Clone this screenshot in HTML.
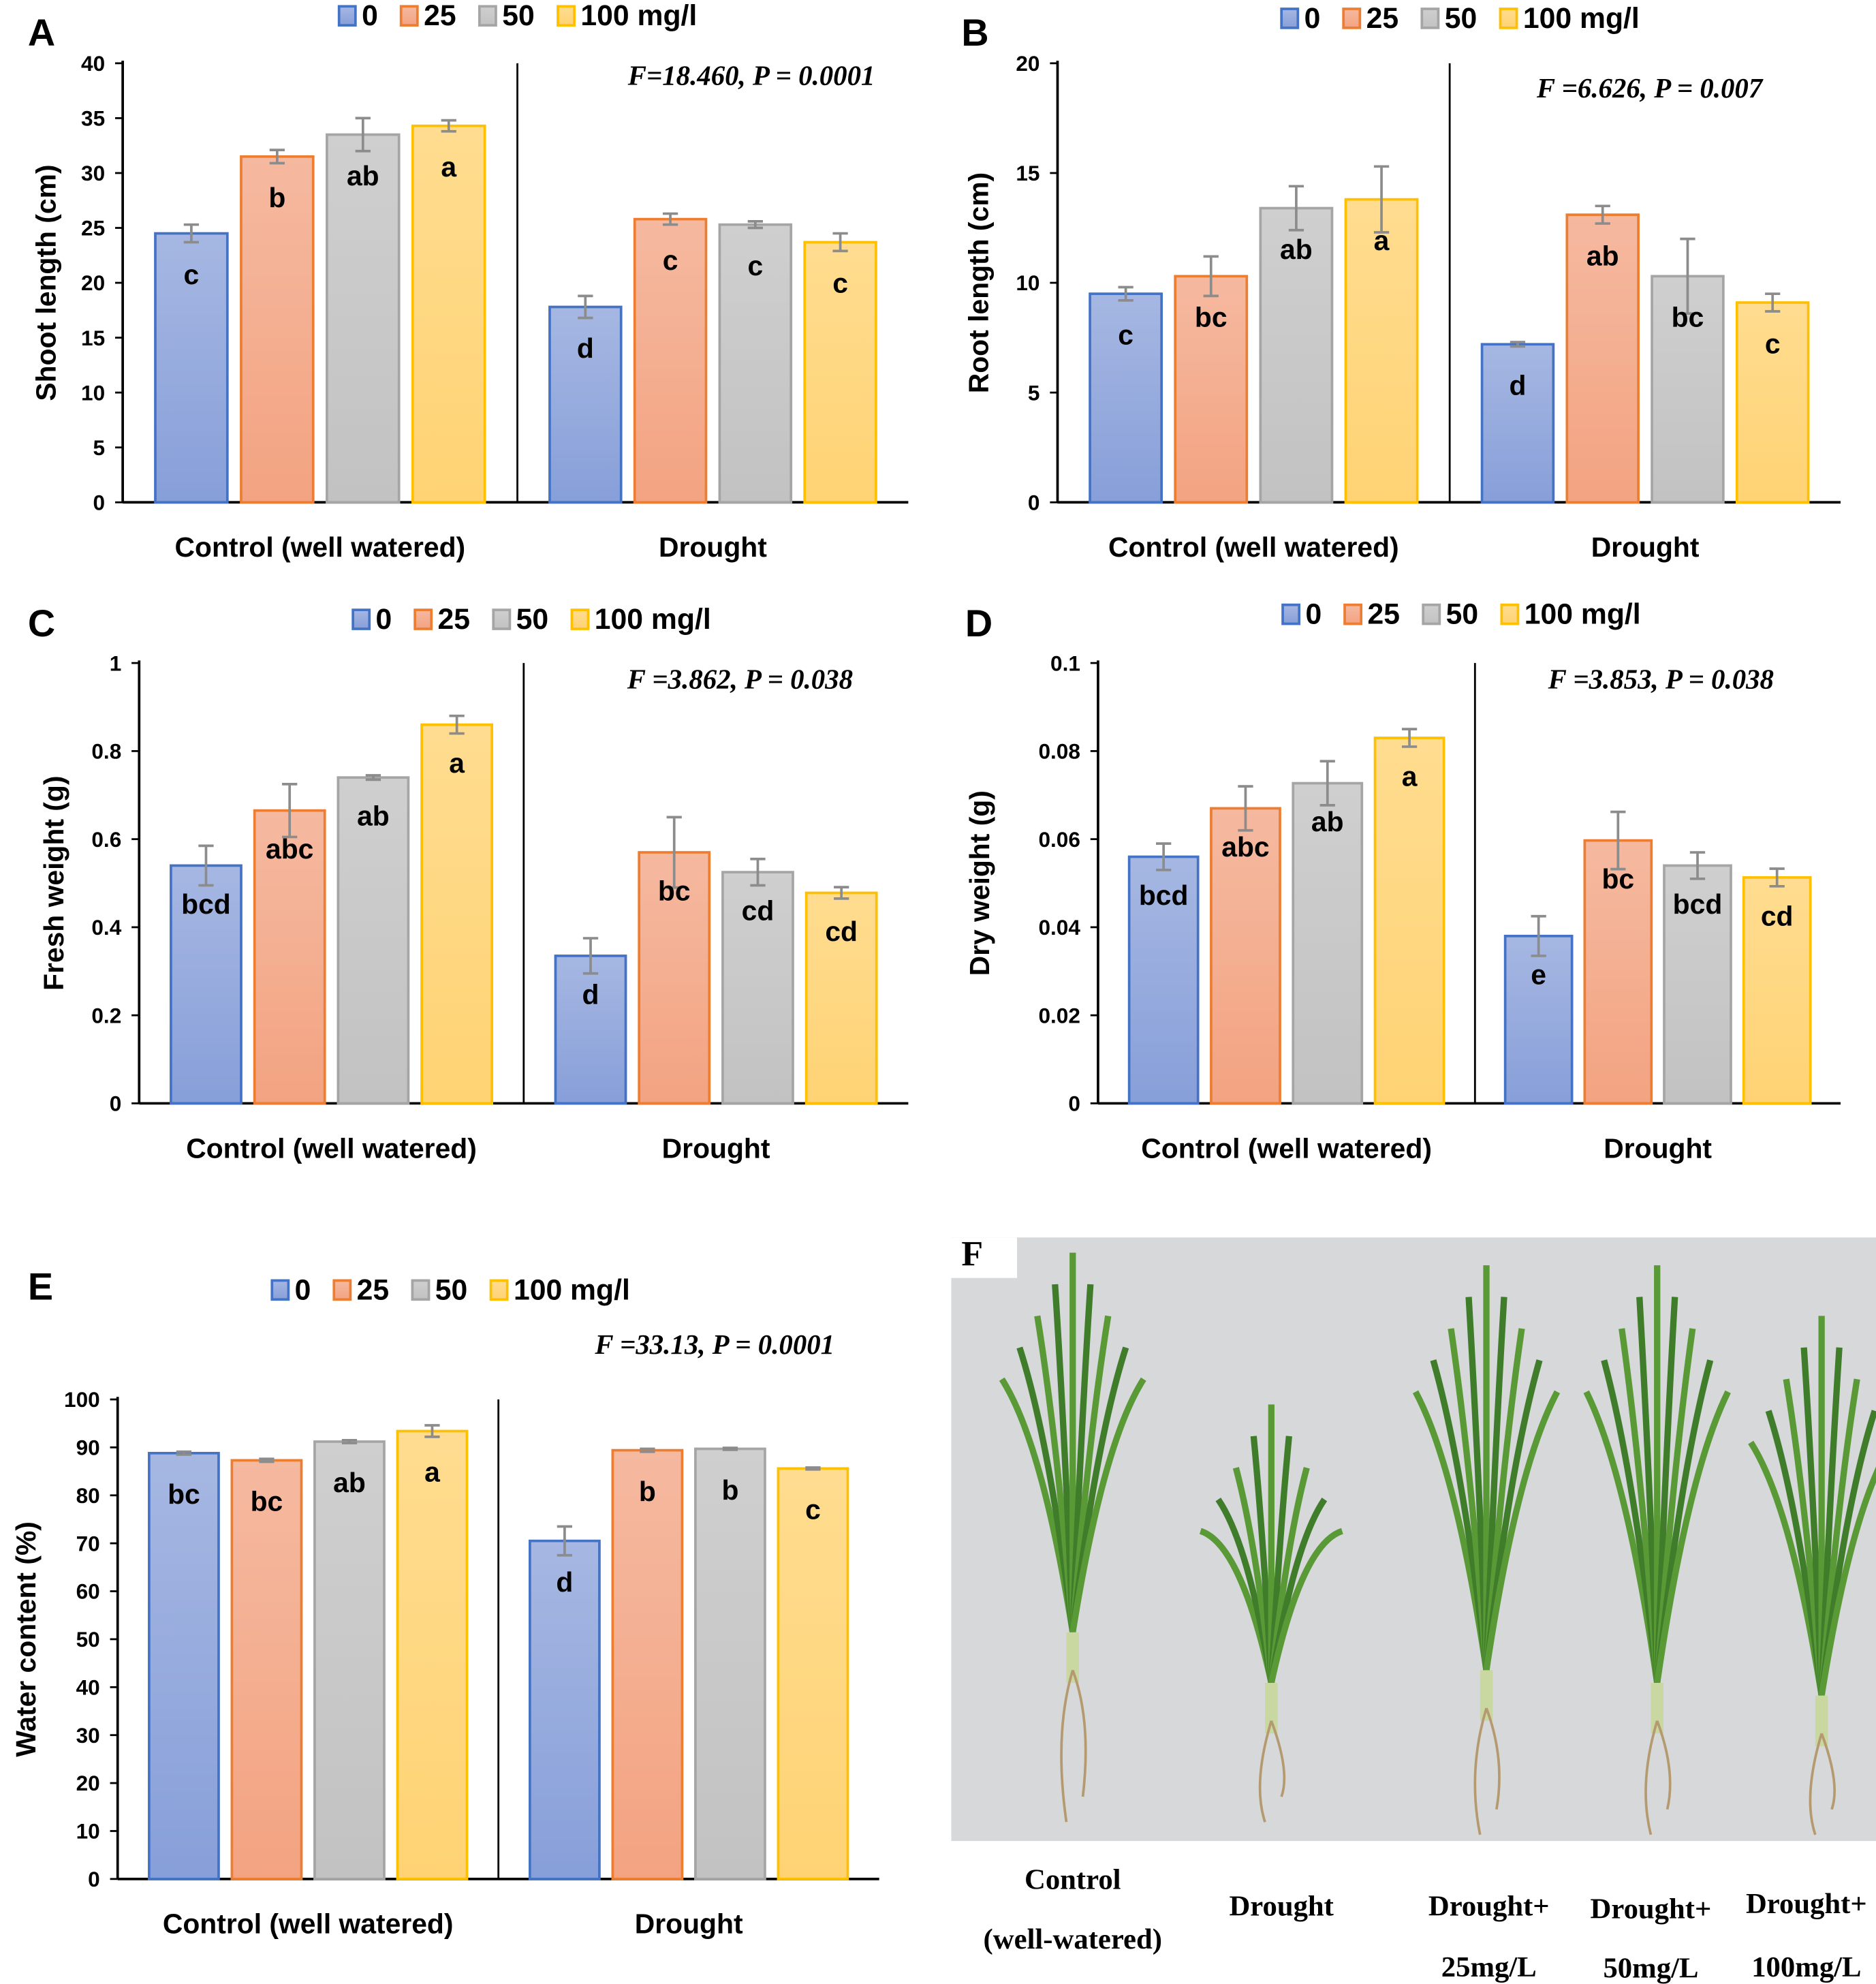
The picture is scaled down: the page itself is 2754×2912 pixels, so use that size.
<!DOCTYPE html>
<html><head><meta charset="utf-8"><style>
html,body{margin:0;padding:0;background:#fff}
svg{display:block}
</style></head><body>
<svg id="fig" xmlns="http://www.w3.org/2000/svg" width="2754" height="2912" viewBox="0 0 1483 1568" preserveAspectRatio="none" font-family="Liberation Sans, sans-serif">
<defs>
<linearGradient id="g0" x1="0" y1="0" x2="0" y2="1"><stop offset="0" stop-color="#a6b7e2"/><stop offset="1" stop-color="#879fd9"/></linearGradient>
<linearGradient id="g1" x1="0" y1="0" x2="0" y2="1"><stop offset="0" stop-color="#f5b9a0"/><stop offset="1" stop-color="#f3a381"/></linearGradient>
<linearGradient id="g2" x1="0" y1="0" x2="0" y2="1"><stop offset="0" stop-color="#cfcfcf"/><stop offset="1" stop-color="#c2c2c2"/></linearGradient>
<linearGradient id="g3" x1="0" y1="0" x2="0" y2="1"><stop offset="0" stop-color="#ffdc90"/><stop offset="1" stop-color="#ffd374"/></linearGradient>
</defs>
</svg>
<script>
const seriesNames=["0","25","50","100 mg/l"];
const groups=["Control (well watered)","Drought"];
const aCtrl=[24.5,31.5,33.5,34.3], aCtrlErr=[0.8,0.6,1.5,0.5], aDr=[17.8,25.8,25.3,23.7], aDrErr=[1.0,0.5,0.3,0.8];
const aCtrlLet=["c","b","ab","a"], aDrLet=["d","c","c","c"];
const aTicks=[0,5,10,15,20,25,30,35,40];
const bCtrl=[9.5,10.3,13.4,13.8], bCtrlErr=[0.3,0.9,1.0,1.5], bDr=[7.2,13.1,10.3,9.1], bDrErr=[0.1,0.4,1.7,0.4];
const bCtrlLet=["c","bc","ab","a"], bDrLet=["d","ab","bc","c"];
const bTicks=[0,5,10,15,20];
const cCtrl=[0.54,0.665,0.74,0.86], cCtrlErr=[0.045,0.06,0.005,0.02], cDr=[0.335,0.57,0.525,0.478], cDrErr=[0.04,0.08,0.03,0.013];
const cCtrlLet=["bcd","abc","ab","a"], cDrLet=["d","bc","cd","cd"];
const cTicks=[0,0.2,0.4,0.6,0.8,1];
const dCtrl=[0.056,0.067,0.0727,0.083], dCtrlErr=[0.003,0.005,0.005,0.002], dDr=[0.038,0.0597,0.054,0.0513], dDrErr=[0.0045,0.0065,0.003,0.002];
const dCtrlLet=["bcd","abc","ab","a"], dDrLet=["e","bc","bcd","cd"];
const dTicks=[0,0.02,0.04,0.06,0.08,0.1];
const eCtrl=[88.8,87.3,91.2,93.4], eCtrlErr=[0.3,0.3,0.3,1.2], eDr=[70.5,89.4,89.7,85.6], eDrErr=[3.0,0.3,0.2,0.2];
const eCtrlLet=["bc","bc","ab","a"], eDrLet=["d","b","b","c"];
const eTicks=[0,10,20,30,40,50,60,70,80,90,100];

const NS="http://www.w3.org/2000/svg", svg=document.getElementById("fig");
const borders=["#4472c4","#ed7d31","#a5a5a5","#ffc000"];
function mk(tag,attrs,parent,txt){const e=document.createElementNS(NS,tag);for(const k in attrs)e.setAttribute(k,attrs[k]);if(txt!==undefined)e.textContent=txt;(parent||svg).appendChild(e);return e;}

function panel(p){
  const g=mk("g",{});
  
  
  const ymax=p.ticks[p.ticks.length-1];
  const Y=v=>p.y0-(v/ymax)*(p.y0-p.y1);
  const t=mk("text",{x:p.lx,y:p.ly,"font-size":30,"font-weight":"bold"},g,p.id);
  
  
  let lxp=p.legX;
  seriesNames.forEach((s,i)=>{
    const r=mk("rect",{x:lxp,y:p.legY-15,width:13,height:15,fill:"url(#g"+i+")",stroke:borders[i],"stroke-width":2},g);
    
    
    const lt=mk("text",{x:lxp+18,y:p.legY,"font-size":23,"font-weight":"bold"},g,s);
    
    
    lxp+=18+(s.length===1?14:s.length===2?27:96)+17;
  });
  mk("line",{x1:p.x0,y1:p.y1-2,x2:p.x0,y2:p.y0,stroke:"#000","stroke-width":2},g);
  mk("line",{x1:p.x0,y1:p.y0,x2:p.x2,y2:p.y0,stroke:"#000","stroke-width":2},g);
  mk("line",{x1:p.div,y1:p.y1,x2:p.div,y2:p.y0,stroke:"#000","stroke-width":1.5},g);
  p.ticks.forEach(v=>{
    mk("line",{x1:p.x0-6,y1:Y(v),x2:p.x0,y2:Y(v),stroke:"#000","stroke-width":1.5},g);
    const tt=mk("text",{x:p.x0-14,y:Y(v)+6,"font-size":17,"font-weight":"bold","text-anchor":"end"},g,String(v));
    
    
  });
  const yt=mk("text",{transform:`translate(${p.ytx},${(p.y0+p.y1)/2}) rotate(-90)`,"font-size":22,"font-weight":"bold","text-anchor":"middle"},g,p.ytitle);
  
  
  const sets=[[p.ctrl,p.ctrlErr,p.ctrlLet,p.x0],[p.dr,p.drErr,p.drLet,p.div]];
  sets.forEach((st,gi)=>{
    const [vals,errs,lets,start]=st;
    const end=gi===0?p.div:p.x2;
    const gw=(end-start), step=gw/4.6, bw=step*0.84;
    vals.forEach((v,i)=>{
      const cx=start+step*(0.8+i);
      const r=mk("rect",{x:cx-bw/2,y:Y(v),width:bw,height:p.y0-Y(v),fill:"url(#g"+i+")",stroke:borders[i],"stroke-width":2},g);
      
      
      const e=errs[i];
      mk("line",{x1:cx,y1:Y(v+e),x2:cx,y2:Y(v-e),stroke:"#8c8c8c","stroke-width":2},g);
      mk("line",{x1:cx-6,y1:Y(v+e),x2:cx+6,y2:Y(v+e),stroke:"#8c8c8c","stroke-width":2},g);
      mk("line",{x1:cx-6,y1:Y(v-e),x2:cx+6,y2:Y(v-e),stroke:"#8c8c8c","stroke-width":2},g);
      const lt=mk("text",{x:cx,y:Y(v)+p.letOff,"font-size":22,"font-weight":"bold","text-anchor":"middle"},g,lets[i]);
      
      
    });
    const gx=mk("text",{x:(start+end)/2,y:p.y0+43,"font-size":22,"font-weight":"bold","text-anchor":"middle"},g,groups[gi]);
    
    
  });
  const ft=mk("text",{x:p.fx,y:p.fy,"font-size":22,"font-style":"italic","font-weight":"bold","font-family":"Liberation Serif, serif","text-anchor":"middle"},g,p.ftext);
  
  
}
panel({id:"A",lx:22,ly:36,legX:268,legY:20,x0:97,x2:718,div:409,y0:397,y1:50,ticks:aTicks,ytitle:"Shoot length (cm)",ytx:44,ctrl:aCtrl,ctrlErr:aCtrlErr,ctrlLet:aCtrlLet,dr:aDr,drErr:aDrErr,drLet:aDrLet,letOff:40,fx:594,fy:67,ftext:"F=18.460, P = 0.0001"});
panel({id:"B",lx:760,ly:36,legX:1013,legY:22,x0:836,x2:1455,div:1146,y0:397,y1:50,ticks:bTicks,ytitle:"Root  length (cm)",ytx:781,ctrl:bCtrl,ctrlErr:bCtrlErr,ctrlLet:bCtrlLet,dr:bDr,drErr:bDrErr,drLet:bDrLet,letOff:40,fx:1304,fy:77,ftext:"F =6.626, P = 0.007"});
panel({id:"C",lx:22,ly:503,legX:279,legY:497,x0:110,x2:718,div:414,y0:872,y1:524,ticks:cTicks,ytitle:"Fresh weight (g)",ytx:50,ctrl:cCtrl,ctrlErr:cCtrlErr,ctrlLet:cCtrlLet,dr:cDr,drErr:cDrErr,drLet:cDrLet,letOff:38,fx:585,fy:544,ftext:"F =3.862, P = 0.038"});
panel({id:"D",lx:763,ly:503,legX:1014,legY:493,x0:868,x2:1455,div:1166,y0:872,y1:524,ticks:dTicks,ytitle:"Dry weight (g)",ytx:782,ctrl:dCtrl,ctrlErr:dCtrlErr,ctrlLet:dCtrlLet,dr:dDr,drErr:dDrErr,drLet:dDrLet,letOff:38,fx:1313,fy:544,ftext:"F =3.853, P = 0.038"});
panel({id:"E",lx:22,ly:1027,legX:215,legY:1027,x0:93,x2:695,div:394,y0:1485,y1:1106,ticks:eTicks,ytitle:"Water content  (%)",ytx:28,ctrl:eCtrl,ctrlErr:eCtrlErr,ctrlLet:eCtrlLet,dr:eDr,drErr:eDrErr,drLet:eDrLet,letOff:40,fx:565,fy:1070,ftext:"F =33.13, P = 0.0001"});

const f=mk("g",{});


mk("rect",{x:752,y:978,width:731,height:477,fill:"#d6d8da"},f);
mk("rect",{x:752,y:978,width:52,height:32,fill:"#fff"},f);
mk("text",{x:760,y:1000,"font-size":28,"font-weight":"bold","font-family":"Liberation Serif, serif"},f,"F");
const plants=[[848,990,1290,1440],[1005,1110,1330,1440],[1175,1000,1320,1450],[1310,1000,1330,1450],[1440,1040,1340,1450]];
plants.forEach(pl=>{
  const [cx,top,base,root]=pl;
  for(let k=-4;k<=4;k++){
    mk("path",{d:`M${cx},${base} Q${cx+k*6},${(top+base)/2} ${cx+k*14},${top+Math.abs(k)*25}`,stroke:k%2?"#3f7d2a":"#5a9a36","stroke-width":5,fill:"none"},f);
  }
  mk("path",{d:`M${cx},${base} L${cx},${base+40}`,stroke:"#c8d8a0","stroke-width":10},f);
  mk("path",{d:`M${cx},${base+30} q-15,50 -5,${root-base-30} M${cx},${base+30} q15,40 8,${root-base-50}`,stroke:"#b59a70","stroke-width":2,fill:"none"},f);
});
const fl=[[848,1493,"Control"],[848,1540,"(well-watered)"],[1013,1514,"Drought"],[1177,1514,"Drought+"],[1177,1562,"25mg/L"],[1305,1516,"Drought+"],[1305,1563,"50mg/L"],[1428,1512,"Drought+"],[1428,1562,"100mg/L"]];
fl.forEach(l=>{const t=mk("text",{x:l[0],y:l[1],"font-size":23,"font-weight":"bold","font-family":"Liberation Serif, serif","text-anchor":"middle"},f,l[2]);

});
</script>
</body></html>
